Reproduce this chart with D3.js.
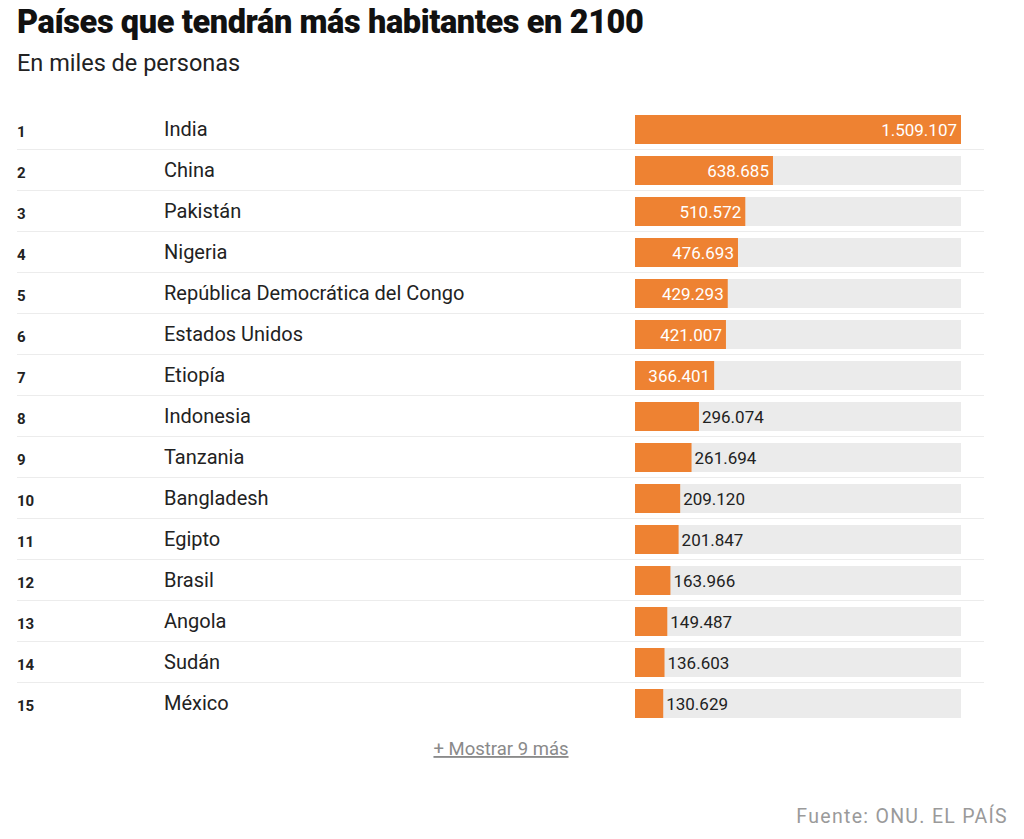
<!DOCTYPE html>
<html>
<head>
<meta charset="utf-8">
<script src="https://cdn.jsdelivr.net/npm/d3@7"></script>
<style>
  body { margin: 0; background: #fff; font-family: Roboto, "Noto Sans", sans-serif; }
</style>
</head>
<body>
<div id="chart"></div>
<script>
// Datos (miles de personas, proyección 2100)
var ranks = [1, 2, 3, 4, 5, 6, 7, 8, 9, 10, 11, 12, 13, 14, 15];
var countries = ["India", "China", "Pakistán", "Nigeria", "República Democrática del Congo",
  "Estados Unidos", "Etiopía", "Indonesia", "Tanzania", "Bangladesh", "Egipto", "Brasil",
  "Angola", "Sudán", "México"];
var values = [1509107, 638685, 510572, 476693, 429293, 421007, 366401, 296074, 261694,
  209120, 201847, 163966, 149487, 136603, 130629];

var data = countries.map(function(c, i) { return { rank: ranks[i], name: c, value: values[i] }; });

var width = 1024, height = 839;
var svg = d3.select("#chart").append("svg")
  .attr("width", width)
  .attr("height", height);

var es = d3.formatLocale({ decimal: ",", thousands: ".", grouping: [3], currency: ["", ""] });
var fmt = es.format(",d");

// Títulos
svg.append("text")
  .attr("x", 17).attr("y", 33)
  .style("font-size", "32.5px").style("font-weight", "900")
  .style("letter-spacing", "-0.4px")
  .attr("fill", "#111")
  .text("Países que tendrán más habitantes en 2100");

svg.append("text")
  .attr("x", 17).attr("y", 71)
  .style("font-size", "23.5px")
  .attr("fill", "#222")
  .text("En miles de personas");

// Escalas
var y = d3.scaleBand()
  .domain(data.map(function(d) { return d.name; }))
  .range([109, 109 + 41 * data.length])
  .paddingInner(0);

var x = d3.scaleLinear()
  .domain([0, d3.max(values)])
  .range([635, 961]);

var barH = 29;

var rows = svg.selectAll("g.row")
  .data(data)
  .enter()
  .append("g")
  .attr("class", "row")
  .attr("transform", function(d) { return "translate(0," + y(d.name) + ")"; });

// separadores
rows.filter(function(d, i) { return i < data.length - 1; })
  .append("line")
  .attr("x1", 17).attr("x2", 984)
  .attr("y1", 40.5).attr("y2", 40.5)
  .attr("stroke", "#ececec")
  .attr("stroke-width", 1);

rows.append("text")
  .attr("x", 17).attr("y", 27.5)
  .style("font-size", "15px").style("font-weight", "700")
  .attr("fill", "#222")
  .text(function(d) { return d.rank; });

rows.append("text")
  .attr("x", 164).attr("y", 26.5)
  .style("font-size", "20px")
  .attr("fill", "#222")
  .text(function(d) { return d.name; });

// fondo de barra
rows.append("rect")
  .attr("x", x(0)).attr("y", 6)
  .attr("width", x.range()[1] - x(0))
  .attr("height", barH)
  .attr("fill", "#ebebeb");

rows.append("rect")
  .attr("x", x(0)).attr("y", 6)
  .attr("width", function(d) { return x(d.value) - x(0); })
  .attr("height", barH)
  .attr("fill", "#ee8232");

rows.append("text")
  .attr("y", 26.5)
  .style("font-size", "17px")
  .attr("x", function(d) {
    var w = x(d.value) - x(0);
    return w > 70 ? x(d.value) - 4 : x(d.value) + 3;
  })
  .attr("text-anchor", function(d) { return (x(d.value) - x(0)) > 70 ? "end" : "start"; })
  .attr("fill", function(d) { return (x(d.value) - x(0)) > 70 ? "#fff" : "#222"; })
  .text(function(d) { return fmt(d.value); });

// Pie
svg.append("text")
  .attr("x", 501).attr("y", 755)
  .attr("text-anchor", "middle")
  .style("font-size", "18.5px")
  .style("text-decoration", "underline")
  .attr("fill", "#8a8a8a")
  .text("+ Mostrar 9 más");

svg.append("text")
  .attr("x", 1008).attr("y", 823)
  .attr("text-anchor", "end")
  .style("font-size", "19.5px")
  .style("letter-spacing", "1.3px")
  .attr("fill", "#9a9a9a")
  .text("Fuente: ONU. EL PAÍS");
</script>
</body>
</html>
